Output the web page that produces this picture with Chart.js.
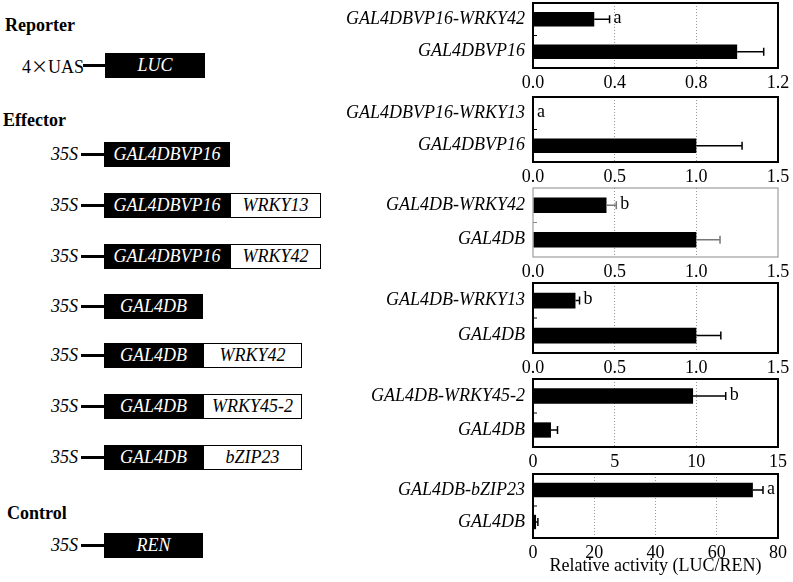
<!DOCTYPE html>
<html>
<head>
<meta charset="utf-8">
<script src="https://cdn.jsdelivr.net/npm/chart.js@4.4.1/dist/chart.umd.min.js"></script>
<style>
  body { margin: 0; background: #fff; width: 793px; height: 582px; position: relative; overflow: hidden;
         font-family: "Liberation Serif", "Times New Roman", serif; }
  .head { position: absolute; font-weight: bold; font-size: 18px; line-height: 20px; }
  .prom { position: absolute; font-size: 18px; line-height: 25px; text-align: right; width: 78px; left: 0; }
  .prom .x { font-family: "Noto Sans CJK SC", sans-serif; font-size: 17px; }
  .stem { position: absolute; height: 3px; background: #000; }
  .box { position: absolute; height: 25px; display: flex; }
  .box span { display: flex; align-items: center; justify-content: center; font-style: italic;
              font-family: "Liberation Serif", serif; font-size: 18px; box-sizing: border-box; height: 25px; }
  .blk { background: #000; color: #fff; }
  .wht { background: #fff; color: #000; border: 1.5px solid #000; }
  canvas.plot { position: absolute; left: 330px; }
</style>
</head>
<body>
<div id="diagram"></div>

<script>
// ---- construct diagram (left side) ----
const reporterParts = [['LUC', 100]];
const effectorParts = [
  [['GAL4DBVP16', 126]],
  [['GAL4DBVP16', 126], ['WRKY13', 91]],
  [['GAL4DBVP16', 126], ['WRKY42', 91]],
  [['GAL4DB', 99]],
  [['GAL4DB', 99], ['WRKY42', 99]],
  [['GAL4DB', 99], ['WRKY45-2', 99]],
  [['GAL4DB', 99], ['bZIP23', 99]]
];
const controlParts = [['REN', 99]];
const effectorRowY = [154, 205, 256, 306, 355, 406, 457];

// ---- bar panels (right side) ----
const panel1Labels = ['GAL4DBVP16-WRKY42', 'GAL4DBVP16'];
const panel1Values = [0.30, 1.00];
const panel1Errors = [0.075, 0.13];
const panel1Letters = ['a', ''];
const panel1Ticks = [0, 1.2, 0.4];

const panel2Labels = ['GAL4DBVP16-WRKY13', 'GAL4DBVP16'];
const panel2Values = [0.0, 1.00];
const panel2Errors = [0, 0.28];
const panel2Letters = ['a', ''];
const panel2Ticks = [0, 1.5, 0.5];

const panel3Labels = ['GAL4DB-WRKY42', 'GAL4DB'];
const panel3Values = [0.45, 1.00];
const panel3Errors = [0.06, 0.145];
const panel3Letters = ['b', ''];
const panel3Ticks = [0, 1.5, 0.5];

const panel4Labels = ['GAL4DB-WRKY13', 'GAL4DB'];
const panel4Values = [0.26, 1.00];
const panel4Errors = [0.025, 0.15];
const panel4Letters = ['b', ''];
const panel4Ticks = [0, 1.5, 0.5];

const panel5Labels = ['GAL4DB-WRKY45-2', 'GAL4DB'];
const panel5Values = [9.8, 1.1];
const panel5Errors = [2.0, 0.4];
const panel5Letters = ['b', ''];
const panel5Ticks = [0, 15, 5];

const panel6Labels = ['GAL4DB-bZIP23', 'GAL4DB'];
const panel6Values = [71.8, 1.0];
const panel6Errors = [3.3, 0.6];
const panel6Letters = ['a', ''];
const panel6Ticks = [0, 80, 20];

const xTitle = 'Relative activity (LUC/REN)';

const SERIF = '"Liberation Serif", "Times New Roman", serif';

// draw diagram
const diagram = document.getElementById('diagram');
function addEl(cls, style, text) {
  const d = document.createElement('div');
  d.className = cls;
  Object.assign(d.style, style);
  if (text) d.textContent = text;
  diagram.appendChild(d);
  return d;
}
function addRow(promoter, italic, parts, cy, promRight, stemFrom, boxLeft) {
  const p = addEl('prom', { top: (cy - 12.5) + 'px', width: promRight + 'px', fontStyle: italic ? 'italic' : 'normal' });
  promoter.split(/(×)/).forEach(t => {
    const s = document.createElement('span');
    if (t === '×') s.className = 'x';
    s.textContent = t;
    p.appendChild(s);
  });
  addEl('stem', { left: stemFrom + 'px', width: (boxLeft - stemFrom) + 'px', top: (cy - 1.5) + 'px' });
  const box = addEl('box', { left: boxLeft + 'px', top: (cy - 12.5) + 'px' });
  parts.forEach((pt, k) => {
    const s = document.createElement('span');
    s.className = k === 0 ? 'blk' : 'wht';
    s.style.width = pt[1] + 'px';
    s.textContent = pt[0];
    box.appendChild(s);
  });
}
addEl('head', { left: '5px', top: '15px' }, 'Reporter');
addRow('4×UAS', false, reporterParts, 65, 84, 83, 105);
addEl('head', { left: '3px', top: '110px' }, 'Effector');
effectorParts.forEach((parts, i) => addRow('35S', true, parts, effectorRowY[i] + 0.5, 78, 81, 104));
addEl('head', { left: '7px', top: '503px' }, 'Control');
addRow('35S', true, controlParts, 545, 78, 81, 104);

// panel decorations: frame, inner ticks, error bars, letters
const decorPlugin = {
  id: 'decor',
  afterDatasetsDraw(chart, args, opts) {
    const { ctx, chartArea: a } = chart;
    const xs = chart.scales.x, ys = chart.scales.y;
    const n = chart.data.labels.length;
    ctx.save();
    // error bars
    ctx.strokeStyle = opts.errColor;
    ctx.lineWidth = 1.5;
    opts.values.forEach((v, i) => {
      const e = opts.errors[i];
      const y = ys.getPixelForValue(i);
      if (e > 0) {
        const x0 = xs.getPixelForValue(v), x1 = xs.getPixelForValue(v + e);
        ctx.beginPath();
        ctx.moveTo(x0, y); ctx.lineTo(x1, y);
        ctx.moveTo(x1, y - 4); ctx.lineTo(x1, y + 4);
        ctx.stroke();
      }
      if (opts.letters[i]) {
        ctx.fillStyle = '#000';
        ctx.font = '18px ' + SERIF;
        ctx.textAlign = 'left';
        ctx.textBaseline = 'middle';
        ctx.fillText(opts.letters[i], xs.getPixelForValue(v + e) + 4, y - 1);
      }
    });
    // inner ticks between categories
    ctx.strokeStyle = opts.frameColor;
    ctx.lineWidth = 1;
    for (let i = 0; i < n - 1; i++) {
      const ym = (ys.getPixelForValue(i) + ys.getPixelForValue(i + 1)) / 2;
      ctx.beginPath(); ctx.moveTo(a.left, ym); ctx.lineTo(a.left + 4, ym); ctx.stroke();
    }
    // frame
    ctx.strokeStyle = opts.frameColor;
    ctx.lineWidth = opts.frameWidth;
    ctx.strokeRect(a.left, a.top, a.right - a.left, a.bottom - a.top);
    ctx.restore();
  }
};

function makePanel(cfg) {
  const padTop = 3, xH = cfg.title ? 44 : 24;
  const c = document.createElement('canvas');
  c.className = 'plot';
  c.width = 463;
  c.height = padTop + (cfg.bottom - cfg.top) + xH;
  c.style.top = (cfg.top - padTop) + 'px';
  c.style.width = c.width + 'px';
  c.style.height = c.height + 'px';
  document.body.appendChild(c);
  const [mn, mx, step] = cfg.ticks;
  new Chart(c.getContext('2d'), {
    type: 'bar',
    data: {
      labels: cfg.labels,
      datasets: [{ data: cfg.values, backgroundColor: '#000', borderWidth: 0,
                   barPercentage: 0.45, categoryPercentage: 1 }]
    },
    options: {
      indexAxis: 'y',
      responsive: false,
      animation: false,
      layout: { padding: { top: padTop, right: 15, left: 0, bottom: 0 } },
      plugins: {
        legend: { display: false },
        tooltip: { enabled: false },
        decor: { values: cfg.values, errors: cfg.errors, letters: cfg.letters,
                 frameColor: cfg.faint ? '#8a8a8a' : '#000', frameWidth: cfg.faint ? 1 : 2,
                 errColor: cfg.faint ? '#777' : '#000' }
      },
      scales: {
        x: {
          min: mn, max: mx,
          ticks: { stepSize: step, color: '#000', padding: 4, maxRotation: 0, autoSkip: false,
                   font: { family: SERIF, size: 18 },
                   callback: v => v.toFixed(step < 1 ? 1 : 0) },
          grid: { drawTicks: false, lineWidth: 1,
                  color: g => (g.tick && g.tick.value > mn && g.tick.value < mx) ? '#9a9a9a' : 'rgba(0,0,0,0)' },
          border: { display: false, dash: [1, 2] },
          title: { display: !!cfg.title, text: cfg.title || '', color: '#000',
                   font: { family: SERIF, size: 18 }, padding: { top: 0, bottom: 5 } },
          afterFit: s => { s.height = xH; s.paddingLeft = 0; s.paddingRight = 0; }
        },
        y: {
          ticks: { color: '#000', padding: 8, autoSkip: false,
                   font: { family: SERIF, size: 18, style: 'italic' } },
          grid: { display: false, drawTicks: false },
          border: { display: false },
          afterFit: s => { s.width = 203; s.paddingTop = 0; s.paddingBottom = 0; }
        }
      }
    },
    plugins: [decorPlugin]
  });
}

makePanel({ top: 3, bottom: 68, labels: panel1Labels, values: panel1Values, errors: panel1Errors, letters: panel1Letters, ticks: panel1Ticks });
makePanel({ top: 97, bottom: 162, labels: panel2Labels, values: panel2Values, errors: panel2Errors, letters: panel2Letters, ticks: panel2Ticks });
makePanel({ top: 188, bottom: 257, labels: panel3Labels, values: panel3Values, errors: panel3Errors, letters: panel3Letters, ticks: panel3Ticks, faint: true });
makePanel({ top: 283, bottom: 353, labels: panel4Labels, values: panel4Values, errors: panel4Errors, letters: panel4Letters, ticks: panel4Ticks });
makePanel({ top: 379, bottom: 447, labels: panel5Labels, values: panel5Values, errors: panel5Errors, letters: panel5Letters, ticks: panel5Ticks });
makePanel({ top: 474, bottom: 538, labels: panel6Labels, values: panel6Values, errors: panel6Errors, letters: panel6Letters, ticks: panel6Ticks, title: xTitle });
</script>
</body>
</html>
